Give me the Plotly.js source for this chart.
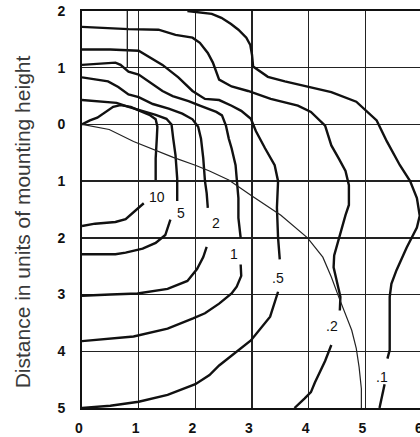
<!DOCTYPE html>
<html>
<head>
<meta charset="utf-8">
<script src="https://cdn.plot.ly/plotly-3.0.1.min.js"></script>
<style>
html,body{margin:0;padding:0;background:#fff;overflow:hidden;width:420px;height:437px;}
#chart{width:440px;height:437px;}
</style>
</head>
<body>
<div id="chart"></div>
<script>
// Axis ticks
const xTicks = [0, 1, 2, 3, 4, 5, 6];
const yTicks = [-5, -4, -3, -2, -1, 0, 1, 2];
const yTickText = ["5", "4", "3", "2", "1", "0", "1", "2"];

// Isolux contour lines (x along, y across; null separates the two halves broken by the label)
const iso10_x = [0, 0.14, 0.27, 0.46, 0.55, 0.68, 0.86, 1.02, 1.19, 1.30, 1.33, 1.32, 1.30, 1.30, null,
                 1.09, 1.00, 0.89, 0.77, 0.59, 0.41, 0.23, 0];
const iso10_y = [0, 0.07, 0.12, 0.24, 0.31, 0.34, 0.31, 0.24, 0.17, 0.09, -0.04, -0.25, -0.60, -0.98, null,
                 -1.39, -1.47, -1.58, -1.67, -1.72, -1.74, -1.75, -1.79];

const iso5_x = [0, 0.23, 0.46, 0.61, 0.82, 1.07, 1.30, 1.49, 1.58, 1.61, 1.65, 1.68, 1.68, null,
                1.56, 1.51, 1.47, 1.30, 1.07, 0.77, 0.59, 0];
const iso5_y = [0.43, 0.41, 0.40, 0.38, 0.31, 0.24, 0.17, 0.10, 0, -0.25, -0.54, -0.95, -1.35, null,
                -1.68, -1.82, -1.95, -2.09, -2.19, -2.26, -2.29, -2.29];

const iso2_x = [0, 0.23, 0.46, 0.64, 0.82, 1.00, 1.25, 1.53, 1.77, 1.95, 2.05, 2.10, 2.14, 2.17, 2.20, 2.22, null,
                2.20, 2.14, 2.03, 1.86, 1.51, 0.98, 0.50, 0];
const iso2_y = [0.83, 0.79, 0.76, 0.66, 0.53, 0.48, 0.36, 0.28, 0.19, 0.09, -0.04, -0.25, -0.60, -1.00, -1.21, -1.47, null,
                -2.16, -2.34, -2.55, -2.76, -2.90, -2.98, -3.00, -3.02];

const iso1_x = [0, 0.32, 0.59, 0.68, 0.82, 1.00, 1.25, 1.42, 1.60, 1.88, 2.08, 2.37, 2.47, 2.54, 2.59, 2.64, 2.71, 2.73, 2.76, 2.76, 2.80, null,
                2.80, 2.81, 2.73, 2.64, 2.42, 2.17, 1.96, 1.51, 0.91, 0];
const iso1_y = [1.05, 1.07, 1.09, 1.05, 0.93, 0.88, 0.71, 0.59, 0.50, 0.41, 0.33, 0.22, 0.16, -0.02, -0.25, -0.42, -0.72, -1.00, -1.30, -1.65, -2.00, null,
                -2.47, -2.67, -2.86, -2.98, -3.16, -3.33, -3.42, -3.60, -3.74, -3.82];

const iso05_x = [0, 0.50, 1.00, 1.12, 1.42, 1.70, 1.95, 2.17, 2.42, 2.64, 2.81, 2.98, 3.07, 3.23, 3.40, 3.46, 3.44, 3.46, 3.49, null,
                 3.46, 3.32, 2.98, 2.76, 2.42, 2.25, 2.00, 1.51, 1.00, 0.50, 0];
const iso05_y = [1.32, 1.32, 1.30, 1.23, 1.05, 0.83, 0.59, 0.45, 0.43, 0.33, 0.24, 0.10, -0.12, -0.42, -0.72, -1.00, -1.47, -2.00, -2.38, null,
                 -2.95, -3.39, -3.81, -3.98, -4.25, -4.42, -4.58, -4.77, -4.89, -4.96, -5.0];

const iso02_x = [0, 0.32, 0.82, 1.35, 1.65, 1.95, 2.08, 2.22, 2.31, 2.42, 2.64, 2.93, 3.33, 3.81, 4.04, 4.29, 4.40, 4.53, 4.65, 4.71, 4.71, 4.65, 4.53, 4.45, 4.44, 4.49, 4.56, 4.55, null,
                 4.40, 4.29, 4.11, 4.04, 3.93, 3.75];
const iso02_y = [1.72, 1.70, 1.68, 1.67, 1.58, 1.53, 1.44, 1.26, 1.09, 0.79, 0.67, 0.59, 0.45, 0.33, 0.22, -0.02, -0.37, -0.60, -0.82, -1.07, -1.42, -1.60, -2.00, -2.31, -2.52, -2.76, -3.04, -3.28, null,
                 -3.89, -4.17, -4.55, -4.72, -4.83, -5.0];

const iso01_x = [1.86, 2.08, 2.29, 2.46, 2.63, 2.76, 2.90, 2.97, 3.00, 3.02, 3.14, 3.28, 3.58, 3.98, 4.40, 4.84, 5.20, 5.38, 5.61, 5.79, 5.91, 5.96, 5.91, 5.73, 5.55, 5.46, 5.43, 5.43, 5.43, 5.39, null,
                 5.34, 5.29, 5.25];
const iso01_y = [2.0, 1.98, 1.95, 1.88, 1.77, 1.67, 1.53, 1.40, 1.23, 1.02, 0.93, 0.84, 0.76, 0.67, 0.57, 0.40, 0.07, -0.30, -0.72, -1.00, -1.30, -1.61, -1.82, -2.17, -2.57, -2.81, -3.04, -3.33, -3.98, -4.13, null,
                 -4.58, -4.85, -5.0];

// Thin reference curve from the luminaire
const ref_x = [0, 0.48, 0.91, 1.30, 1.61, 2.0, 2.25, 2.59, 2.98, 3.51, 3.98, 4.25, 4.40, 4.53, 4.67, 4.76, 4.84, 4.89, 4.93, 4.93];
const ref_y = [0, -0.09, -0.30, -0.46, -0.58, -0.72, -0.82, -0.98, -1.25, -1.60, -2.0, -2.34, -2.69, -3.04, -3.39, -3.63, -3.95, -4.28, -4.66, -5.0];

// Short vertical construction line
const mark_x = [0.8, 0.8];
const mark_y = [2, 1];

// Contour labels
const labelText = ["10", "5", "2", "1", ".5", ".2", ".1"];
const labelX = [1.32, 1.74, 2.36, 2.68, 3.46, 4.42, 5.29];
const labelY = [-1.28, -1.56, -1.74, -2.28, -2.71, -3.56, -4.45];

const contourLine = {color: '#111', width: 2.4};
function contour(x, y) {
  return {x: x, y: y, type: 'scatter', mode: 'lines', line: contourLine,
          connectgaps: false, hoverinfo: 'skip', showlegend: false};
}

const data = [
  contour(iso10_x, iso10_y),
  contour(iso5_x, iso5_y),
  contour(iso2_x, iso2_y),
  contour(iso1_x, iso1_y),
  contour(iso05_x, iso05_y),
  contour(iso02_x, iso02_y),
  contour(iso01_x, iso01_y),
  {x: ref_x, y: ref_y, type: 'scatter', mode: 'lines', line: {color: '#222', width: 1.2},
   hoverinfo: 'skip', showlegend: false},
  {x: mark_x, y: mark_y, type: 'scatter', mode: 'lines', line: {color: '#222', width: 1.4},
   hoverinfo: 'skip', showlegend: false}
];

const annotations = labelText.map((t, i) => ({
  x: labelX[i], y: labelY[i], xref: 'x', yref: 'y', text: t, showarrow: false,
  font: {family: 'Liberation Sans, Arial, sans-serif', size: 14, color: '#111'},
  xanchor: 'center', yanchor: 'middle'
}));
annotations.push({
  xref: 'paper', yref: 'paper', x: -0.176, y: 0.468, text: 'Distance in units of mounting height',
  textangle: -90, showarrow: false, xanchor: 'center', yanchor: 'middle',
  font: {family: 'Liberation Sans, Arial, sans-serif', size: 21, color: '#3a3a3a'}
});

const axisCommon = {
  showgrid: true, gridcolor: '#222', gridwidth: 1.4,
  showline: true, linecolor: '#111', linewidth: 2, mirror: true,
  zeroline: false, ticks: '', fixedrange: true,
  tickfont: {family: 'Liberation Sans, Arial, sans-serif', size: 14, color: '#111', weight: 'bold'}
};

const layout = {
  width: 440, height: 437,
  margin: {l: 82, r: 18, t: 11, b: 29, pad: 0},
  paper_bgcolor: '#fff', plot_bgcolor: '#fff',
  xaxis: Object.assign({}, axisCommon, {range: [0, 6], tickvals: xTicks, ticklabelstandoff: 6, ticklabelshift: -3}),
  yaxis: Object.assign({}, axisCommon, {range: [-5, 2], tickvals: yTicks, ticktext: yTickText, ticklabelstandoff: 12}),
  annotations: annotations
};

Plotly.newPlot('chart', data, layout, {displayModeBar: false, staticPlot: true});
</script>
</body>
</html>
